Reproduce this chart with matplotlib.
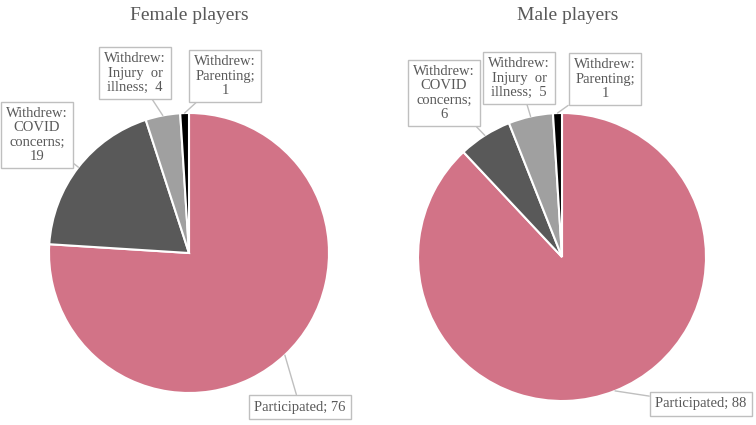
import numpy as np
import matplotlib.pyplot as plt

categories = ["Participated", "Withdrew: COVID concerns", "Withdrew: Injury or illness",
              "Withdrew: Parenting"]
label_text = ["Participated; {}", "Withdrew:\nCOVID\nconcerns;\n{}", "Withdrew:\nInjury  or\nillness;  {}",
              "Withdrew:\nParenting;\n{}"]
female = [76, 19, 4, 1]
male = [88, 6, 5, 1]
colors = ["#D27387", "#595959", "#A0A0A0", "#000000"]

W, H = 756, 425
plt.rcParams["font.family"] = ["Liberation Serif", "DejaVu Serif"]

fig = plt.figure(figsize=(W / 100, H / 100), dpi=100)
ax = fig.add_axes([0, 0, 1, 1])

text_col = "#595959"
box_col = "#BFBFBF"


def draw_pie(values, title, center, radius, title_x, boxes, label_fmt):
    cx, cy = center[0], H - center[1]
    wedges, _ = ax.pie(values, colors=colors, startangle=90, counterclock=False,
                       center=(cx, cy), radius=radius, frame=True,
                       wedgeprops=dict(edgecolor="white", linewidth=1.5))
    ax.text(title_x, H - 15, title, ha="center", va="center", fontsize=14, color=text_col)
    for w, v, fmt, (bx, by) in zip(wedges, values, label_fmt, boxes):
        mid = np.deg2rad((w.theta1 + w.theta2) / 2)
        px, py = cx + radius * np.cos(mid), cy + radius * np.sin(mid)
        ax.annotate(fmt.format(v), xy=(px, py), xytext=(bx, H - by),
                    ha="center", va="center", fontsize=10.5, color=text_col,
                    linespacing=1.12,
                    bbox=dict(boxstyle="square,pad=0.38", fc="white", ec=box_col, lw=1),
                    arrowprops=dict(arrowstyle="-", color=box_col, lw=1,
                                    shrinkA=0, shrinkB=0))


draw_pie(female, "Female players", (189, 253), 140, 189,
         [(300, 407), (37, 135), (135, 73), (225, 76)], label_text)
draw_pie(male, "Male players", (562, 257), 144, 568,
         [(701, 404), (444, 93), (519, 78), (605, 79)], label_text)

ax.set_xlim(0, W)
ax.set_ylim(0, H)
ax.set_aspect("equal")
ax.axis("off")

fig.savefig("out.png", dpi=100)
